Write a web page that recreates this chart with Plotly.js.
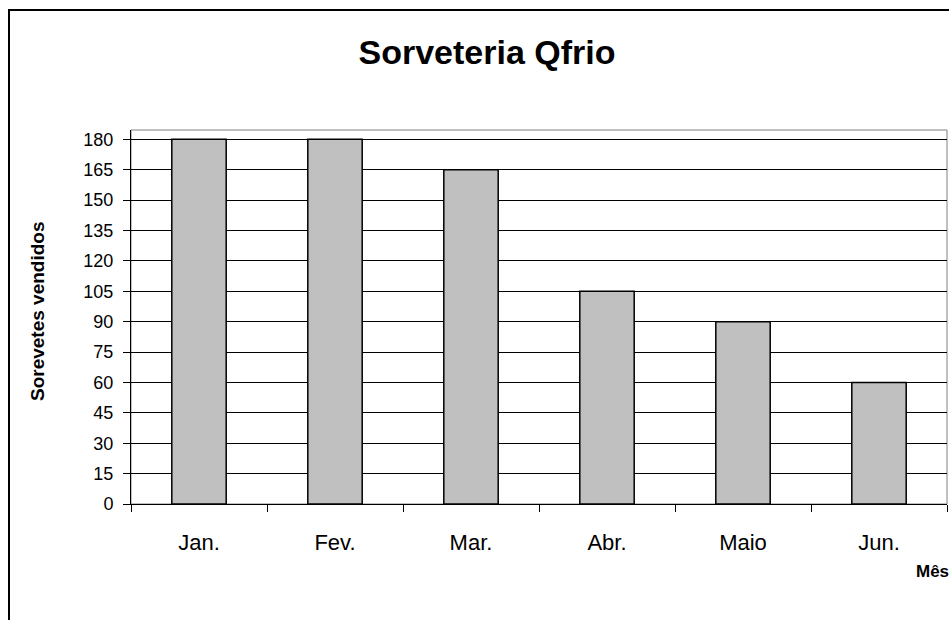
<!DOCTYPE html>
<html>
<head>
<meta charset="utf-8">
<script src="https://cdn.plot.ly/plotly-3.0.1.min.js"></script>
<style>
html,body{margin:0;padding:0;overflow:hidden;background:#fff;}
#chart{width:949px;height:620px;}
</style>
</head>
<body>
<div id="chart"></div>
<script>
const months = ["Jan.", "Fev.", "Mar.", "Abr.", "Maio", "Jun."];
const sales = [180, 180, 165, 105, 90, 60];
const chartTitle = "Sorveteria Qfrio";
const yTitle = "Sorevetes vendidos";
const xTitle = "Mês";

const W = 949, H = 620;
const L = 131, R = 947, T = 130, B = 504;
const pw = R - L, ph = B - T;
const px = v => (v - L) / pw;
const py = v => (B - v) / ph;
const font = "Liberation Sans, Arial, sans-serif";

const trace = {
  type: "bar",
  x: months,
  y: sales,
  marker: {color: "#C0C0C0", line: {color: "#000000", width: 1.5}},
  hoverinfo: "x+y"
};

const layout = {
  width: W, height: H,
  margin: {l: L, r: W - R, t: T, b: H - B, pad: 0},
  paper_bgcolor: "#ffffff",
  plot_bgcolor: "#ffffff",
  showlegend: false,
  bargap: 0.6,
  font: {family: font, color: "#000"},
  title: {
    text: "<b>" + chartTitle + "</b>",
    font: {family: font, size: 34, color: "#000"},
    x: px(487), xref: "paper", xanchor: "center",
    y: 1 - 52 / H, yref: "container", yanchor: "middle"
  },
  xaxis: {
    type: "category",
    tickson: "boundaries",
    ticks: "outside", ticklen: 7, tickcolor: "#000", tickwidth: 1,
    showline: true, linecolor: "#000", linewidth: 1,
    showgrid: false, zeroline: false,
    tickfont: {family: font, size: 22, color: "#000"},
    ticklabelstandoff: 19,
    fixedrange: true
  },
  yaxis: {
    range: [0, 184.6],
    tick0: 0, dtick: 15,
    ticks: "outside", ticklen: 7, tickcolor: "#000", tickwidth: 1,
    showline: true, linecolor: "#000", linewidth: 1,
    showgrid: true, gridcolor: "#000", gridwidth: 1,
    zeroline: false,
    tickfont: {family: font, size: 18, color: "#000"},
    ticklabelstandoff: 6,
    fixedrange: true
  },
  shapes: [
    {type: "rect", xref: "paper", yref: "paper",
     x0: 0, x1: 1, y0: 0, y1: 1,
     line: {color: "#808080", width: 1}, layer: "below"},
    {type: "rect", xref: "paper", yref: "paper",
     x0: px(9), x1: px(1100), y0: py(800), y1: py(10),
     line: {color: "#000", width: 2}, layer: "above"}
  ],
  annotations: [
    {text: "<b>" + yTitle + "</b>", xref: "paper", yref: "paper",
     x: px(37), y: py(311), xanchor: "center", yanchor: "middle",
     textangle: -90, showarrow: false,
     font: {family: font, size: 19, color: "#000"}},
    {text: "<b>" + xTitle + "</b>", xref: "paper", yref: "paper",
     x: px(914), y: py(571), xanchor: "left", yanchor: "middle",
     showarrow: false,
     font: {family: font, size: 17, color: "#000"}}
  ]
};

Plotly.newPlot("chart", [trace], layout, {displayModeBar: false, staticPlot: true});
</script>
</body>
</html>
